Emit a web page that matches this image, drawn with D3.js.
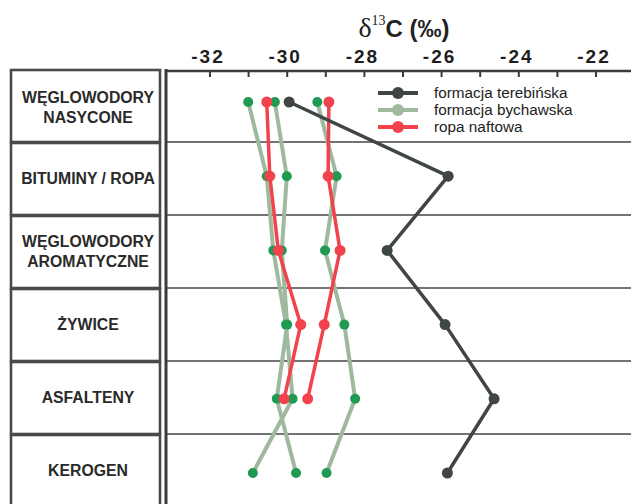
<!DOCTYPE html>
<html><head><meta charset="utf-8">
<script src="https://cdn.jsdelivr.net/npm/d3@7"></script>
<style>body{margin:0;background:#fff}svg{display:block}</style>
</head><body>
<script>
const categories = [["WĘGLOWODORY","NASYCONE"],["BITUMINY / ROPA"],["WĘGLOWODORY","AROMATYCZNE"],["ŻYWICE"],["ASFALTENY"],["KEROGEN"]];
const tickValues = [-32,-30,-28,-26,-24,-22];
const terebinska = [-29.95,-25.83,-27.41,-25.91,-24.64,-25.85];
const bychawskaA = [-31.01,-30.53,-30.36,-30.03,-29.86,-30.89];
const bychawskaB = [-30.32,-30.01,-30.14,-30.00,-30.27,-29.77];
const bychawskaC = [-29.22,-28.72,-29.02,-28.52,-28.24,-28.98];
const ropaA = [-30.53,-30.45,-30.23,-29.65,-30.08,null];
const ropaB = [-28.92,-28.94,-28.63,-29.04,-29.47,null];
const legendLabels = ["formacja terebińska","formacja bychawska","ropa naftowa"];

const W=631,H=504;
const svg=d3.select("body").append("svg").attr("width",W).attr("height",H);
const idx=d3.range(categories.length);
const x=d3.scaleLinear().domain([-32,-22]).range([210,596]);
const band=d3.scaleBand().domain(idx).range([69,507]);
const y=d3.scalePoint().domain(idx).range([102,473]);

// left boxes
idx.forEach(i=>{
  svg.append("rect").attr("x",11).attr("y",band(i)+1).attr("width",149).attr("height",band.bandwidth()-1)
    .attr("fill","#fff").attr("stroke","#4a4a4a").attr("stroke-width",2.6);
  const lines=categories[i];
  const cy=band(i)+band.bandwidth()/2+(i===0?2:0);
  const t=svg.append("text").attr("x",88).attr("text-anchor","middle")
    .attr("font-family","Liberation Sans, Arial, sans-serif").attr("font-weight","bold")
    .attr("font-size",15.8).attr("fill","#2a2a2a");
  lines.forEach((s,k)=>{
    t.append("tspan").attr("x",88).attr("y",cy+5+(k-(lines.length-1)/2)*20).text(s);
  });
});
// plot frame
svg.append("line").attr("x1",166).attr("x2",166).attr("y1",69).attr("y2",H).attr("stroke","#3a3a3a").attr("stroke-width",3);
svg.append("line").attr("x1",166).attr("x2",W).attr("y1",71).attr("y2",71).attr("stroke","#3a3a3a").attr("stroke-width",2.5);
idx.slice(1).forEach(i=>{
  svg.append("line").attr("x1",167).attr("x2",W).attr("y1",band(i)).attr("y2",band(i)).attr("stroke","#444").attr("stroke-width",1.6);
});
// ticks
const minor=d3.range(-32,-21,1);
svg.append("g").selectAll("line").data(minor).join("line")
  .attr("x1",d=>x(d)).attr("x2",d=>x(d)).attr("y1",71).attr("y2",77).attr("stroke","#3a3a3a").attr("stroke-width",2);
svg.append("g").selectAll("text").data(tickValues).join("text")
  .attr("x",d=>x(d)-2).attr("y",63).attr("text-anchor","middle")
  .attr("font-family","Liberation Sans, Arial, sans-serif").attr("font-weight","bold").attr("font-size",19)
  .attr("letter-spacing",2).attr("fill","#1e1e1e").text(d=>String(d));
// title
const title=svg.append("text").attr("x",404).attr("y",37).attr("text-anchor","middle").attr("fill","#222");
title.append("tspan").attr("font-family","Liberation Serif, Times New Roman, serif").attr("font-size",28).text("δ");
title.append("tspan").attr("font-family","Liberation Serif, Times New Roman, serif").attr("font-size",14).attr("dy",-12).text("13");
title.append("tspan").attr("font-family","Liberation Sans, Arial, sans-serif").attr("font-weight","bold").attr("font-size",24).attr("dy",12).text("C (‰)");

const line=d3.line().defined(d=>d!=null).x(d=>x(d)).y((d,i)=>y(i));
function series(vals,lc,lw,mc,r){
  svg.append("path").datum(vals).attr("d",line).attr("fill","none").attr("stroke",lc).attr("stroke-width",lw).attr("stroke-linejoin","round");
  svg.append("g").selectAll("circle").data(vals.map((v,i)=>[v,i]).filter(d=>d[0]!=null)).join("circle")
    .attr("cx",d=>x(d[0])).attr("cy",d=>y(d[1])).attr("r",r).attr("fill",mc);
}
const sage="#9fb99f", green="#1f9a52", red="#f2424c", dark="#3f4644";
[bychawskaA,bychawskaB,bychawskaC].forEach(s=>series(s,sage,4,green,5));
[ropaA,ropaB].forEach(s=>series(s,red,3.5,red,5.5));
series(terebinska,dark,3.5,dark,5.5);

// legend
const leg=[{c:dark,m:dark},{c:sage,m:sage},{c:red,m:red}];
leg.forEach((d,i)=>{
  const ly=93+i*17;
  svg.append("line").attr("x1",378).attr("x2",418).attr("y1",ly).attr("y2",ly).attr("stroke",d.c).attr("stroke-width",4);
  svg.append("circle").attr("cx",398).attr("cy",ly).attr("r",6).attr("fill",d.m);
  svg.append("text").attr("x",434).attr("y",ly+5).attr("font-family","Liberation Sans, Arial, sans-serif")
    .attr("font-size",15.3).attr("fill","#222").text(legendLabels[i]);
});
</script>
</body></html>
